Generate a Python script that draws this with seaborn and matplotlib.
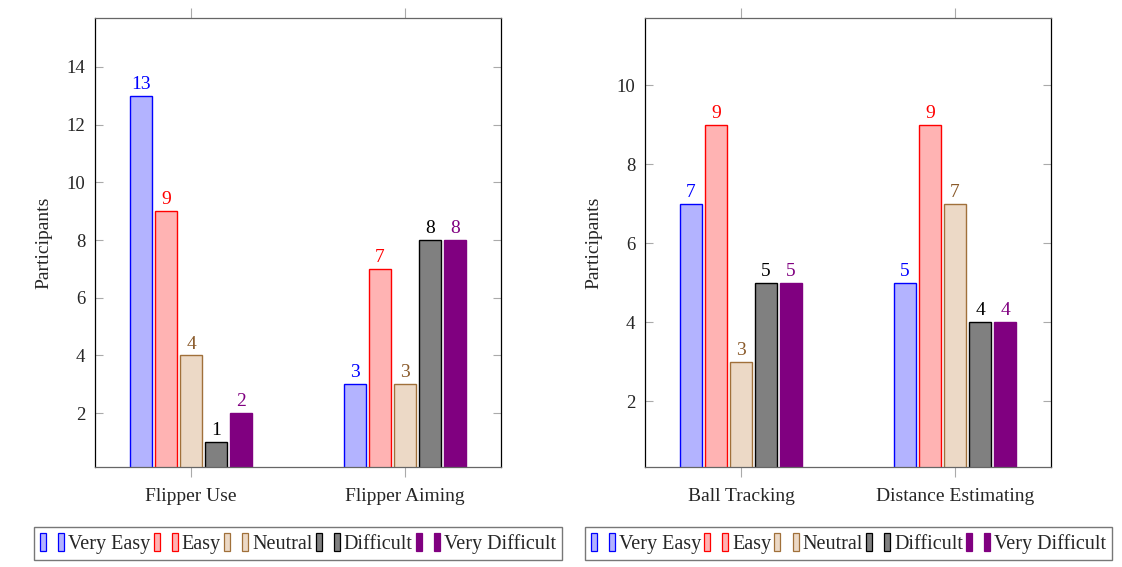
import numpy as np
import pandas as pd
import matplotlib
matplotlib.use("Agg")
import matplotlib.pyplot as plt
import seaborn as sns
from matplotlib.patches import Patch
from matplotlib.legend_handler import HandlerTuple

# data
levels = ["Very Easy", "Easy", "Neutral", "Difficult", "Very Difficult"]

tasks_left = ["Flipper Use", "Flipper Aiming"]
left_very_easy = [13, 3]
left_easy = [9, 7]
left_neutral = [4, 3]
left_difficult = [1, 8]
left_very_difficult = [2, 8]

tasks_right = ["Ball Tracking", "Distance Estimating"]
right_very_easy = [7, 5]
right_easy = [9, 9]
right_neutral = [3, 7]
right_difficult = [5, 4]
right_very_difficult = [5, 4]

# pgfplots-like colours (fill, edge, label)
fills = ["#b3b3ff", "#ffb3b3", "#ecd9c6", "#808080", "#800080"]
edges = ["#0000ff", "#ff0000", "#a0703a", "#000000", "#800080"]
label_cols = ["#0000ff", "#ff0000", "#8a5a2a", "#000000", "#800080"]


def to_long(tasks, series):
    rows = []
    for lvl, vals in zip(levels, series):
        for t, v in zip(tasks, vals):
            rows.append({"task": t, "level": lvl, "n": v})
    return pd.DataFrame(rows)


df_left = to_long(tasks_left, [left_very_easy, left_easy, left_neutral,
                               left_difficult, left_very_difficult])
df_right = to_long(tasks_right, [right_very_easy, right_easy, right_neutral,
                                 right_difficult, right_very_difficult])

sns.set_style("white")
plt.rcParams["font.family"] = ["Liberation Serif", "DejaVu Serif"]
plt.rcParams["font.size"] = 14

fig = plt.figure(figsize=(11.22, 5.67), dpi=100)
ax1 = fig.add_axes([0.0847, 0.1764, 0.3619, 0.7919])
ax2 = fig.add_axes([0.5749, 0.1764, 0.3619, 0.7919])


def draw(ax, df, tasks, ylim, yticks):
    sns.barplot(data=df, x="task", y="n", hue="level", order=tasks,
                hue_order=levels, palette=fills, width=0.584, gap=0.12,
                linewidth=1.0, saturation=1, legend=False, ax=ax)
    for i, cont in enumerate(ax.containers):
        for bar in cont:
            bar.set_edgecolor(edges[i])
            bar.set_linewidth(1.0)
        ax.bar_label(cont, padding=2, color=label_cols[i], fontsize=14)
    ax.set_xlim(-0.449, 1.449)
    ax.set_ylim(*ylim)
    ax.set_yticks(yticks)
    ax.set_xlabel("")
    ax.set_ylabel("Participants", fontsize=14, labelpad=10)
    ax.tick_params(axis="y", direction="in", length=6, width=0.8,
                   color="#aaaaaa", left=True, right=True, pad=7,
                   labelsize=13.5)
    ax.tick_params(axis="x", direction="out", length=7, width=0.8,
                   color="#aaaaaa", bottom=True, top=True, pad=8,
                   labelsize=14)
    for side in ["left", "right"]:
        ax.spines[side].set_color("black")
        ax.spines[side].set_linewidth(0.9)
    for side in ["top", "bottom"]:
        ax.spines[side].set_color("#666666")
        ax.spines[side].set_linewidth(0.9)


draw(ax1, df_left, tasks_left, (0.13, 15.7), [2, 4, 6, 8, 10, 12, 14])
draw(ax2, df_right, tasks_right, (0.33, 11.7), [2, 4, 6, 8, 10])

# legend: pgfplots ybar legend shows two little bars per entry
handles = []
for f, e in zip(fills, edges):
    p1 = Patch(facecolor=f, edgecolor=e, linewidth=0.9)
    p2 = Patch(facecolor=f, edgecolor=e, linewidth=0.9)
    handles.append((p1, p2))

for cx in [0.2656, 0.7562]:
    fig.legend(handles, levels, loc="center", bbox_to_anchor=(cx, 0.0415),
               ncol=5, frameon=True, fancybox=False, edgecolor="#555555",
               handler_map={tuple: HandlerTuple(ndivide=None, pad=0.6)},
               handlelength=1.2, handleheight=1.0, handletextpad=0.2,
               columnspacing=0.15, borderpad=0.3, borderaxespad=0,
               fontsize=14.5)

fig.savefig("out.png", dpi=100)
